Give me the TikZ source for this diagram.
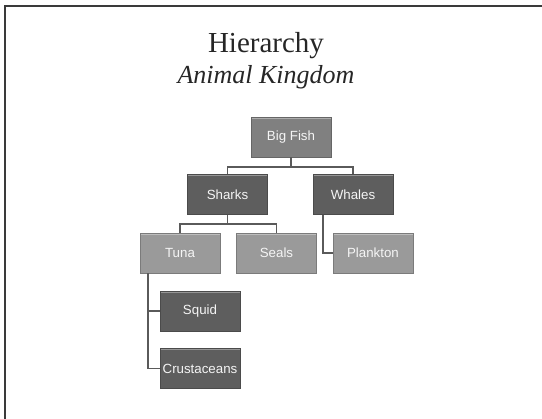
\documentclass[tikz,border=0pt]{standalone}
\usepackage{fontspec}
\setmainfont{Liberation Serif}
\newfontfamily\boxfont{Liberation Sans}
\definecolor{darkbox}{HTML}{5E5E5E}
\definecolor{midbox}{HTML}{808080}
\definecolor{lightbox}{HTML}{9A9A9A}
\definecolor{linecol}{HTML}{5A5A5A}
\definecolor{framecol}{HTML}{3A3A3A}
\begin{document}
\begin{tikzpicture}[x=1pt,y=-1pt,
  boxbase/.style={rectangle, minimum width=80pt, minimum height=40pt, inner sep=0pt,
    text=white!92!gray, font=\boxfont\fontsize{13.3}{15}\selectfont,
    path picture={\draw[white, opacity=0.35, line width=1.5pt]
      ([yshift=-1pt]path picture bounding box.north west) -- ([yshift=-1pt]path picture bounding box.north east);}},
  darkb/.style={boxbase, fill=darkbox, draw=darkbox!80!black},
  midb/.style={boxbase, fill=midbox, draw=midbox!80!black},
  lightb/.style={boxbase, fill=lightbox, draw=lightbox!80!black},
  conn/.style={draw=linecol, line width=1.8pt},
  titlefont/.style={font=\fontsize{29}{34}\selectfont, text=black!85},
  subfont/.style={font=\itshape\fontsize{26}{31}\selectfont, text=black!85}]
\useasboundingbox (0,0) rectangle (542,419);
\fill[white] (0,0) rectangle (542,419);
\draw[framecol, line width=2pt] (5,419) -- (5,6) -- (542,6);

\node[titlefont, anchor=base] (title) at (266,53) {Hierarchy};
\node[subfont, anchor=base] (subtitle) at (266,84) {Animal Kingdom};

\node[midb] (bf) at (291,137) {Big Fish};
\node[darkb] (sh) at (227.5,194.5) {Sharks};
\node[darkb] (wh) at (353,194.5) {Whales};
\node[lightb] (tu) at (180,253) {Tuna};
\node[lightb] (se) at (276.5,253) {Seals};
\node[lightb] (pl) at (373,253) {Plankton};
\node[darkb] (sq) at (200,311) {Squid};
\node[darkb] (cr) at (200,368.5) {Crustaceans};

\begin{scope}[on background layer/.style={}]
\draw[conn] (bf.south) -- ++(0,10) -| (sh.north);
\draw[conn] (bf.south) -- ++(0,10) -| (wh.north);
\draw[conn] (sh.south) -- ++(0,9) -| (tu.north);
\draw[conn] (sh.south) -- ++(0,9) -| (se.north);
\draw[conn] ([xshift=-30.3pt]wh.south) |- (pl.west);
\draw[conn] ([xshift=-32pt]tu.south) |- (sq.west);
\draw[conn] ([xshift=-32pt]tu.south) |- (cr.west);
\end{scope}
\end{tikzpicture}
\end{document}
